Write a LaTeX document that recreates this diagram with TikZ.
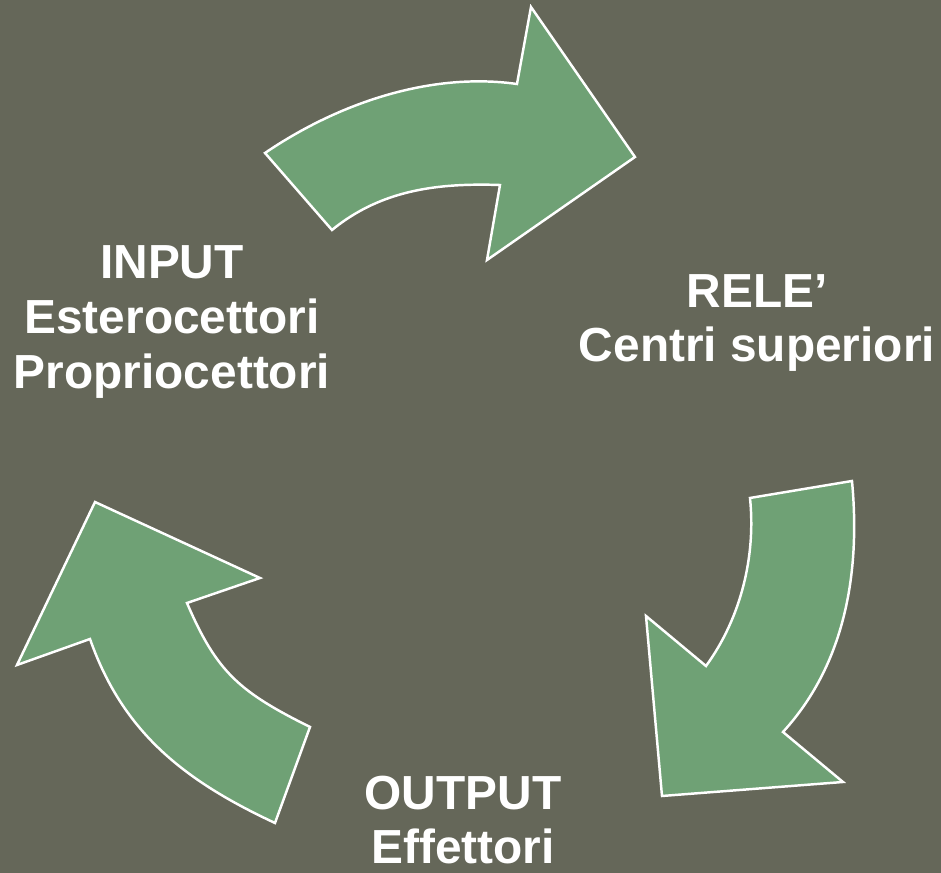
\documentclass[tikz,border=0pt]{standalone}
\usepackage{fontspec}
\setmainfont{Liberation Sans}
\usepackage{tikz}
\usetikzlibrary{positioning}
\definecolor{sfondo}{RGB}{101,103,89}
\definecolor{verde}{RGB}{111,161,117}
\tikzset{freccia/.style={fill=verde, draw=white, line width=0.7pt, line join=miter},
         etichetta/.style={text=white, font=\bfseries\fontsize{13.6}{15.6}\selectfont, align=center, inner sep=0pt}}

\begin{document}
\begin{tikzpicture}[x=0.01cm, y=-0.01cm]
            \fill[sfondo] (0,0) rectangle (941,873);
            \useasboundingbox (0,0) rectangle (941,873);

            \node[etichetta] (input) at (172,322) {INPUT\\Esterocettori\\Propriocettori};
            \node[etichetta] (rele) at (757,323) {RELE’\\Centri superiori};
            \node[etichetta] (output) at (463,820) {OUTPUT\\Effettori};

            % input -> rele
            \draw[freccia] (265,153) .. controls (340,102) and (432,72) .. (517,84) -- (531,7) -- (635,157) -- (487,260) -- (500,185)
                .. controls (440,183) and (382,189) .. (332,230) -- cycle;
            % rele -> output
            \draw[freccia] (750,498) -- (852,481) .. controls (860,566) and (848,661) .. (783,732) -- (843,782) -- (662,796) -- (646,616) -- (706,666)
                .. controls (741,618) and (756,556) .. cycle;
            % output -> input
            \draw[freccia] (95,502) -- (260,578) -- (187,603) .. controls (217,673) and (240,692) .. (310,727) -- (275,823)
                .. controls (185,781) and (123,733) .. (90,639) -- (17,665) -- cycle;
      \end{tikzpicture}
\end{document}
